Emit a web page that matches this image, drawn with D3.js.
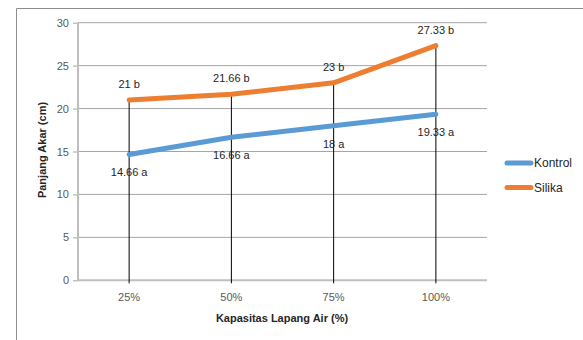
<!DOCTYPE html>
<html>
<head>
<meta charset="utf-8">
<script src="https://cdn.jsdelivr.net/npm/d3@7"></script>
<style>
  body { margin: 0; background: #fff; }
  svg { display: block; font-family: "Liberation Sans", Arial, sans-serif; }
</style>
</head>
<body>
<div id="chart"></div>
<script>
// chart data
var categories = ["25%", "50%", "75%", "100%"];
var kontrol = [14.66, 16.66, 18, 19.33];
var silika = [21, 21.66, 23, 27.33];
var kontrolLabels = ["14.66 a", "16.66 a", "18 a", "19.33 a"];
var silikaLabels = ["21 b", "21.66 b", "23 b", "27.33 b"];
var yTicks = [0, 5, 10, 15, 20, 25, 30];

var svgWidth = 583;
var svgHeight = 340;

// plot area
var plot = { left: 78, right: 487, top: 22.7, bottom: 280.3 };

var svg = d3.select("#chart")
    .append("svg")
    .attr("width", svgWidth)
    .attr("height", svgHeight);

// outer frame (cropped at right / bottom)
svg.append("path")
    .attr("d", "M16.5,340 V8.5 H583")
    .attr("fill", "none")
    .attr("stroke", "#8c8c8c")
    .attr("stroke-width", 1);

var xScale = d3.scaleBand()
    .domain(categories)
    .range([plot.left, plot.right]);

var yScale = d3.scaleLinear()
    .domain([0, 30])
    .range([plot.bottom, plot.top]);

var cx = d => xScale(d) + xScale.bandwidth() / 2;

// gridlines
svg.append("g")
    .selectAll("line")
    .data(yTicks.filter(t => t > 0))
    .enter()
    .append("line")
    .attr("x1", plot.left)
    .attr("x2", plot.right)
    .attr("y1", d => yScale(d))
    .attr("y2", d => yScale(d))
    .attr("stroke", "#a6a6a6")
    .attr("stroke-width", 1);

// y axis
var leftAxis = d3.axisLeft(yScale)
    .tickValues(yTicks)
    .tickSize(5)
    .tickPadding(4);

var yAxisG = svg.append("g")
    .attr("transform", `translate(${plot.left}, 0)`)
    .call(leftAxis);
yAxisG.select(".domain").remove();
yAxisG.selectAll(".tick line").attr("stroke", "#a6a6a6");
yAxisG.selectAll("text")
    .attr("fill", "#595959")
    .style("font-size", "11px");

svg.append("line")
    .attr("x1", plot.left).attr("x2", plot.left)
    .attr("y1", plot.top).attr("y2", plot.bottom)
    .attr("stroke", "#bfbfbf")
    .attr("stroke-width", 2);

// x axis
var bottomAxis = d3.axisBottom(xScale)
    .tickSize(0)
    .tickPadding(13);

var xAxisG = svg.append("g")
    .attr("transform", `translate(0, ${plot.bottom})`)
    .call(bottomAxis);
xAxisG.select(".domain").remove();
xAxisG.selectAll("text")
    .attr("fill", "#595959")
    .style("font-size", "11px");

svg.append("line")
    .attr("x1", plot.left).attr("x2", plot.right)
    .attr("y1", plot.bottom).attr("y2", plot.bottom)
    .attr("stroke", "#bfbfbf")
    .attr("stroke-width", 2);

// drop lines from the highest point down to the axis
svg.append("g")
    .selectAll("line")
    .data(categories)
    .enter()
    .append("line")
    .attr("x1", d => cx(d))
    .attr("x2", d => cx(d))
    .attr("y1", (d, i) => yScale(Math.max(kontrol[i], silika[i])))
    .attr("y2", plot.bottom + 3)
    .attr("stroke", "#000")
    .attr("stroke-width", 1);

// lines
var series = [
    { name: "Kontrol", values: kontrol, labels: kontrolLabels, color: "#5b9bd5", dy: 22 },
    { name: "Silika", values: silika, labels: silikaLabels, color: "#ed7d31", dy: -12 }
];

var line = d3.line()
    .x((d, i) => cx(categories[i]))
    .y(d => yScale(d));

series.forEach(function(s) {
    svg.append("path")
        .datum(s.values)
        .attr("d", line)
        .attr("fill", "none")
        .attr("stroke", s.color)
        .attr("stroke-width", 5)
        .attr("stroke-linecap", "round")
        .attr("stroke-linejoin", "round");

    svg.append("g")
        .selectAll("text")
        .data(s.values)
        .enter()
        .append("text")
        .attr("x", (d, i) => cx(categories[i]))
        .attr("y", d => yScale(d) + s.dy)
        .attr("text-anchor", "middle")
        .attr("fill", "#262626")
        .style("font-size", "11px")
        .text((d, i) => s.labels[i]);
});

// axis titles
svg.append("text")
    .attr("x", 282)
    .attr("y", 322)
    .attr("text-anchor", "middle")
    .attr("font-weight", "bold")
    .attr("fill", "#262626")
    .style("font-size", "11px")
    .text("Kapasitas Lapang Air (%)");

svg.append("text")
    .attr("transform", "translate(46, 150) rotate(-90)")
    .attr("text-anchor", "middle")
    .attr("font-weight", "bold")
    .attr("fill", "#262626")
    .style("font-size", "11px")
    .text("Panjang Akar (cm)");

// legend
var legend = svg.append("g");
series.forEach(function(s, i) {
    var ly = 163 + i * 24.5;
    legend.append("line")
        .attr("x1", 507).attr("x2", 531)
        .attr("y1", ly).attr("y2", ly)
        .attr("stroke", s.color)
        .attr("stroke-width", 5)
        .attr("stroke-linecap", "round");
    legend.append("text")
        .attr("x", 534)
        .attr("y", ly + 4)
        .attr("fill", "#262626")
        .style("font-size", "12px")
        .text(s.name);
});
</script>
</body>
</html>
